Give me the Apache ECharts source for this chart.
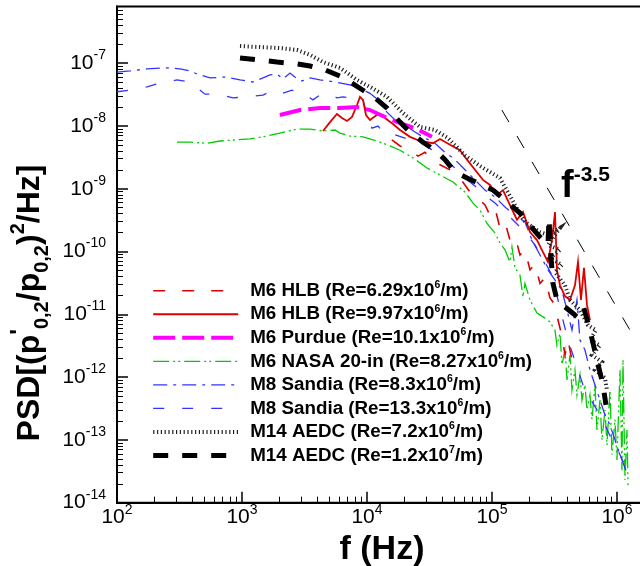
<!DOCTYPE html>
<html><head><meta charset="utf-8">
<script src="https://cdn.jsdelivr.net/npm/echarts@6/dist/echarts.min.js"></script>
<style>html,body{margin:0;padding:0;background:#fff}#c{width:640px;height:566px}</style>
</head><body><div id="c"></div>
<script>
const FONT = '"Liberation Sans", Arial, Helvetica, sans-serif';

const seriesNames = [
  'M6 HLB (Re=6.29x10^6/m)',
  'M6 HLB (Re=9.97x10^6/m)',
  'M6 Purdue (Re=10.1x10^6/m)',
  'M6 NASA 20-in (Re=8.27x10^6/m)',
  'M8 Sandia (Re=8.3x10^6/m)',
  'M8 Sandia (Re=13.3x10^6/m)',
  'M14 AEDC (Re=7.2x10^6/m)',
  'M14 AEDC (Re=1.2x10^7/m)'
];

const xMajorTicks = [1e2, 1e3, 1e4, 1e5, 1e6];
const yMajorTicks = [1e-14, 1e-13, 1e-12, 1e-11, 1e-10, 1e-9, 1e-8, 1e-7];

// M6 HLB Re=6.29e6 (red dashed)
const hlb629F = [15800,18400,22100,25600,29100,33100,38400,46100,55500,66700,77300,87900,96400,105700,115900,127100,139300,152800,167500,183700,201400,220800,242100,265500,291100,319200,337300,363100,383700,405500,436500];
const hlb629P = [6.0e-9,4.8e-9,4.1e-9,3.3e-9,3.8e-9,2.9e-9,2.4e-9,2.0e-9,1.48e-9,8.85e-10,7.1e-10,5.5e-10,3.8e-10,4.9e-10,2.37e-10,2.95e-10,1.52e-10,1.77e-10,8.8e-11,1.06e-10,5.1e-11,6.3e-11,3.1e-11,3.8e-11,1.82e-11,1.41e-11,8.1e-12,4.5e-12,2.25e-12,3.9e-12,1.87e-12];

// M6 HLB Re=9.97e6 (red solid)
const hlb997F = [4450,5060,5750,6310,6920,7590,8320,8790,9290,9820,10570,12250,13930,16140,18370,22080,26550,33730,38370,46130,55460,63100,73100,84700,96400,109600,122500,139300,158500,177000,201400,229100,255900,280500,302000,319200,331100,349900,383700,420700,461300,487500,515200,544500,575400,608100];
const hlb997P = [8.3e-9,1.15e-8,1.55e-8,1.34e-8,1.2e-8,1.39e-8,2.15e-8,2.9e-8,2.6e-8,1.49e-8,1.24e-8,1.55e-8,1.34e-8,1.07e-8,8.6e-9,6.7e-9,5.75e-9,5.3e-9,6.2e-9,5.0e-9,4.1e-9,2.9e-9,2.0e-9,1.38e-9,1.15e-9,7.9e-10,9.5e-10,5.5e-10,3.2e-10,4.26e-10,2.04e-10,1.52e-10,9.8e-11,6.8e-11,1.52e-10,4.26e-10,5.1e-11,2.9e-11,1.95e-11,1.69e-11,2.9e-11,6.8e-11,1.69e-11,5.5e-11,1.41e-11,8.1e-12];

// M6 Purdue (magenta)
const purdueF = [2010,2910,4210,6080,8320,10570,14450,18370,24210,33110];
const purdueP = [1.49e-8,1.79e-8,1.93e-8,1.93e-8,2.0e-8,1.79e-8,1.34e-8,1.11e-8,9.2e-9,6.7e-9];

// M6 NASA 20-in (green)
const nasaF = [302,384,525,667,912,1160,1470,2010,2750,3500,4450,5550,6080,7310,9290,12020,15280,18370,23330,30200,38370,48750,60810,70470,80170,91200,105700,115900,127100,139300,144500,152800,167500,177000,183700,201400,229100,265500,291100,319200,331100,349900,363100,383700,398100,420700,436500,461300,478600,505800,524800,554600,575400,608100,631000,666800,691800,731100,758600,801700,831800,879000,912000,963800,1000000,1057000,1096000,1117000,1159000,1202000,1225000];
const nasaP = [5.5e-9,5.5e-9,5.3e-9,5.75e-9,6.0e-9,6.2e-9,6.7e-9,7.7e-9,8.9e-9,8.9e-9,8.3e-9,8.6e-9,7.7e-9,6.9e-9,6.7e-9,5.75e-9,4.8e-9,4.1e-9,3.1e-9,2.14e-9,1.65e-9,1.28e-9,8.85e-10,5.9e-10,4.6e-10,2.8e-10,1.97e-10,1.36e-10,1.06e-10,6.8e-11,1.18e-10,5.5e-11,4.2e-11,1.9e-11,3.1e-11,1.69e-11,1.05e-11,8.7e-12,7.5e-12,5.6e-12,3.2e-12,5.0e-12,1.56e-12,2.7e-12,9.0e-13,2.25e-12,6.2e-13,1.3e-12,5.2e-13,1.08e-12,4.3e-13,7.5e-13,3.0e-13,5.2e-13,2.1e-13,7.5e-13,1.44e-13,4.3e-13,1.0e-13,3.0e-13,8.3e-14,6.2e-13,5.8e-14,2.1e-13,4.8e-14,1.3e-12,3.3e-14,1.87e-12,2.3e-14,1.44e-13,1.9e-14];

// M8 Sandia Re=8.3e6 (blue dash-dot)
const sandia83F = [100,127,174,251,319,384,437,555,731,964,1225,1472,1675,1905,2128,2421,2704,3020,3499,4207,5546,7311,8790,10570,12250,14450,16750,20140,24210,29110,35000,42070,50580,60810,73110,87900,105700,127100,152800,183700,208900,242100,280500,319200,363100,398100,436500,478600,505800,554600,608100,666800,731100,801700,879000,963800,1057000,1159000,1225000];
const sandia83P = [7.2e-8,7.5e-8,8.1e-8,8.4e-8,8.1e-8,7.5e-8,6.7e-8,5.8e-8,6.0e-8,5.4e-8,5.0e-8,5.8e-8,6.5e-8,6.7e-8,5.6e-8,6.95e-8,5.8e-8,5.2e-8,5.8e-8,5.4e-8,5.0e-8,4.5e-8,4.0e-8,3.3e-8,2.6e-8,1.66e-8,1.24e-8,1.03e-8,8.0e-9,6.4e-9,5.3e-9,3.8e-9,2.9e-9,2.0e-9,1.38e-9,9.5e-10,7.4e-10,5.1e-10,3.8e-10,2.95e-10,1.52e-10,8.8e-11,5.1e-11,3.5e-11,2.4e-11,1.17e-11,5.6e-12,1.69e-11,3.9e-12,2.7e-12,1.3e-12,7.5e-13,4.3e-13,2.5e-13,1.73e-13,1.0e-13,5.8e-14,3.57e-14,2.8e-14];

// M8 Sandia Re=13.3e6 (blue dashed)
const sandia133F = [100,127,174,221,302,384,506,631,847,1096,1472,1675,1905,2512,3076,3698,4207,4786,5754,6427,7311,8318,9290,10190,10970,12250,13930,16750,20140,24210,29110,35000,42070,50580,60810,73110,87900,105700,127100,152800,183700,220800,265500,302000,337300,369800,405500,444600,487500,534600,608100,691800,801700,912000,1057000,1202000];
const sandia133P = [3.5e-8,3.7e-8,4.2e-8,4.8e-8,5.4e-8,5.0e-8,3.2e-8,3.2e-8,2.8e-8,2.9e-8,3.1e-8,3.5e-8,3.1e-8,3.7e-8,3.3e-8,2.6e-8,3.1e-8,3.3e-8,2.8e-8,2.9e-8,2.8e-8,3.1e-8,2.6e-8,1.34e-8,9.2e-9,9.95e-9,7.4e-9,7.2e-9,6.4e-9,6.0e-9,5.0e-9,3.8e-9,2.9e-9,2.14e-9,1.48e-9,1.1e-9,7.9e-10,5.9e-10,4.26e-10,2.95e-10,2.04e-10,1.27e-10,6.8e-11,4.2e-11,1.69e-11,8.1e-12,3.9e-12,2.25e-12,1.3e-12,7.5e-13,4.65e-13,3.0e-13,1.73e-13,1.0e-13,5.8e-14,3.3e-14];

// M14 AEDC Re=7.2e6 (dotted)
const aedc72F = [964,1393,2014,2754,3499,4446,6081,8318,10970,14450,19410,26550,35000,44460,60810,80170,115900,152800,183700,242100,280500,349900,280500,349900,291100,363100,319200,383700,420700,505800,586100,679200,608100,731100,631000,758600,666800,801700,831800];
const aedc72P = [1.87e-7,1.8e-7,1.74e-7,1.62e-7,1.35e-7,1.04e-7,8.4e-8,5.4e-8,4.0e-8,2.9e-8,1.6e-8,9.6e-9,8.6e-9,6.4e-9,3.4e-9,2.3e-9,1.48e-9,5.5e-10,2.95e-10,2.04e-10,1.83e-10,2.37e-10,1.27e-10,1.06e-10,7.9e-11,6.1e-11,4.7e-11,2.9e-11,1.69e-11,1.17e-11,6.7e-12,5.6e-12,3.9e-12,3.2e-12,2.25e-12,1.74e-12,1.3e-12,9.7e-13,6.2e-13];

// M14 AEDC Re=1.2e7 (thick black dashed)
const aedc12F = [964,1393,1905,2754,3499,4613,6081,7586,9290,11590,14450,18370,22080,28050,35000,42070,50580,63100,80170,101900,127100,167500,201400,242100,280500,285800,296500,307600,331100,383700,461300,534600,608100,691800,772700,816600];
const aedc12P = [1.21e-7,1.12e-7,1.04e-7,9.7e-8,9.0e-8,7.8e-8,6.2e-8,4.8e-8,3.7e-8,2.8e-8,1.93e-8,1.15e-8,8.0e-9,5.5e-9,4.1e-9,2.9e-9,1.85e-9,1.48e-9,1.19e-9,9.5e-10,6.6e-10,4.1e-10,2.6e-10,1.7e-10,1.27e-10,3.4e-10,8.2e-11,3.1e-11,1.69e-11,1.31e-11,9.75e-12,1.41e-11,5.6e-12,1.87e-12,7.5e-13,3.6e-13];

// f^-3.5 reference line
const slopeF = [120000, 1270000];
const slopeP = [1.79e-8, 5.6e-12];

// minor tick positions (2..9 x decade)
const xMinorTicks = [];
for (let e = 2; e <= 6; e++) for (let m = 2; m <= 9; m++) xMinorTicks.push(m * Math.pow(10, e));
const yMinorTicks = [];
for (let e = -14; e <= -7; e++) for (let m = 2; m <= 9; m++) { const v = m * Math.pow(10, e); if (v <= 8.01e-7) yMinorTicks.push(v); }

const pairs = (f, p) => f.map((v, i) => [v, p[i]]);
const expLabel = v => '10{s|' + Math.round(Math.log10(v)) + '}';

const RED = '#dd0000', MAG = '#ff00ff', GRN = '#00cc00', BLU = '#3333ff';
// line styles, in legend order
const styles = [
  { color: RED, width: 1.6, type: [12, 17] },
  { color: RED, width: 1.8, type: 'solid' },
  { color: MAG, width: 4, type: [22, 7] },
  { color: GRN, width: 1.3, type: [16, 4, 2, 3, 2, 4] },
  { color: BLU, width: 1.3, type: [14, 6, 3, 6] },
  { color: BLU, width: 1.3, type: [11, 18] },
  { color: '#222', width: 4, type: [1.2, 2.6] },
  { color: '#000', width: 5, type: [15, 14] }
];
const seriesData = [
  [hlb629F, hlb629P], [hlb997F, hlb997P], [purdueF, purdueP], [nasaF, nasaP],
  [sandia83F, sandia83P], [sandia133F, sandia133P], [aedc72F, aedc72P], [aedc12F, aedc12P]
];
const drawOrder = [3, 4, 5, 0, 1, 2, 6, 7];

function line(name, f, p, st, z) {
  return {
    name, type: 'line', data: pairs(f, p), symbol: 'none', showSymbol: false,
    silent: true, z: z, clip: true, animation: false,
    xAxisIndex: 0, yAxisIndex: 0,
    lineStyle: { color: st.color, width: st.width, type: st.type, cap: 'butt', join: 'miter' },
    itemStyle: { color: st.color }
  };
}

const series = [line('f^-3.5', slopeF, slopeP, { color: '#000', width: 1, type: [14, 16] }, 2)];
drawOrder.forEach((k, i) => series.push(line(seriesNames[k], seriesData[k][0], seriesData[k][1], styles[k], 3 + i)));

const legendData = seriesNames.map((n, k) => ({
  name: n,
  itemStyle: { opacity: 0 },
  lineStyle: { color: styles[k].color, width: styles[k].width, type: styles[k].type, opacity: 1, cap: 'butt' }
}));

const chart = echarts.init(document.getElementById('c'), null, { renderer: 'canvas' });
chart.setOption({
  animation: false,
  backgroundColor: '#fff',
  textStyle: { fontFamily: FONT },
  grid: { left: 117, top: 6.4, right: -14.6, bottom: 63.3, show: true, borderColor: '#000', borderWidth: 2, backgroundColor: 'transparent', containLabel: false, outerBoundsMode: 'none' },
  xAxis: [
    { type: 'log', logBase: 10, min: 100, max: 2e6, position: 'bottom',
      axisLine: { show: true, lineStyle: { color: '#000', width: 2 } },
      axisTick: { show: true, inside: true, length: 11, lineStyle: { color: '#000', width: 1.5 }, customValues: xMajorTicks },
      minorTick: { show: false }, splitLine: { show: false },
      axisLabel: { show: true, customValues: xMajorTicks, formatter: expLabel, margin: 0, color: '#000', fontFamily: FONT, fontSize: 21, lineHeight: 30,
        rich: { s: { fontSize: 14, lineHeight: 14, verticalAlign: 'top', fontFamily: FONT, color: '#000' } } } },
    { type: 'log', logBase: 10, min: 100, max: 2e6, position: 'bottom',
      axisLine: { show: false },
      axisTick: { show: true, inside: true, length: 6, lineStyle: { color: '#000', width: 1 }, customValues: xMinorTicks },
      axisLabel: { show: false }, splitLine: { show: false } }
  ],
  yAxis: [
    { type: 'log', logBase: 10, min: 1e-14, max: 8e-7, position: 'left',
      axisLine: { show: true, lineStyle: { color: '#000', width: 2 } },
      axisTick: { show: true, inside: true, length: 11, lineStyle: { color: '#000', width: 1.5 }, customValues: yMajorTicks },
      minorTick: { show: false }, splitLine: { show: false },
      axisLabel: { show: true, customValues: yMajorTicks, formatter: expLabel, margin: 11, color: '#000', fontFamily: FONT, fontSize: 21, lineHeight: 30,
        rich: { s: { fontSize: 14, lineHeight: 14, verticalAlign: 'top', fontFamily: FONT, color: '#000' } } } },
    { type: 'log', logBase: 10, min: 1e-14, max: 8e-7, position: 'left',
      axisLine: { show: false },
      axisTick: { show: true, inside: true, length: 6, lineStyle: { color: '#000', width: 1 }, customValues: yMinorTicks },
      axisLabel: { show: false }, splitLine: { show: false } }
  ],
  legend: {
    show: true, orient: 'vertical', left: 150.7, top: 279.7, padding: 0,
    itemWidth: 85, itemHeight: 14, itemGap: 1.55,
    data: legendData, selectedMode: false,
    itemStyle: { opacity: 0 },
    formatter: n => n.replace(/\^(\d+)/, '{s|$1}'),
    textStyle: { fontFamily: FONT, fontWeight: 'bold', fontSize: 18.8, lineHeight: 22, color: '#000', padding: [0, 0, 0, 7],
      rich: { s: { fontSize: 10.5, lineHeight: 10, verticalAlign: 'top', fontFamily: FONT, color: '#000' } } }
  },
  graphic: [
    { type: 'text', x: 30, y: 303, rotation: Math.PI / 2, silent: true,
      style: { text: '{b|PSD[(p}{pr|\'}{sub|0,2}{b|/p}{sub|0,2}{b|)}{sup|2}{b|/Hz]}', align: 'center', verticalAlign: 'middle', fill: '#000',
        rich: {
          b: { fontFamily: FONT, fontWeight: 'bold', fontSize: 32, lineHeight: 44, verticalAlign: 'middle', fill: '#000' },
          pr: { fontFamily: FONT, fontWeight: 'bold', fontSize: 24, lineHeight: 24, verticalAlign: 'top', fill: '#000' },
          sub: { fontFamily: FONT, fontWeight: 'bold', fontSize: 20, lineHeight: 20, verticalAlign: 'bottom', fill: '#000' },
          sup: { fontFamily: FONT, fontWeight: 'bold', fontSize: 20, lineHeight: 20, verticalAlign: 'top', fill: '#000' }
        } } },
    { type: 'text', x: 382, y: 550, silent: true,
      style: { text: 'f (Hz)', align: 'center', verticalAlign: 'middle', fill: '#000', font: 'bold 34px ' + FONT } },
    { type: 'text', x: 561, y: 187, silent: true,
      style: { text: '{f|f}{s|-3.5}', align: 'left', verticalAlign: 'middle', fill: '#000',
        rich: {
          f: { fontFamily: FONT, fontWeight: 'bold', fontSize: 38, lineHeight: 44, verticalAlign: 'middle', fill: '#000' },
          s: { fontFamily: FONT, fontWeight: 'bold', fontSize: 21, lineHeight: 21, verticalAlign: 'top', fill: '#000' }
        } } }
  ],
  series: series
});
</script>
</body></html>
